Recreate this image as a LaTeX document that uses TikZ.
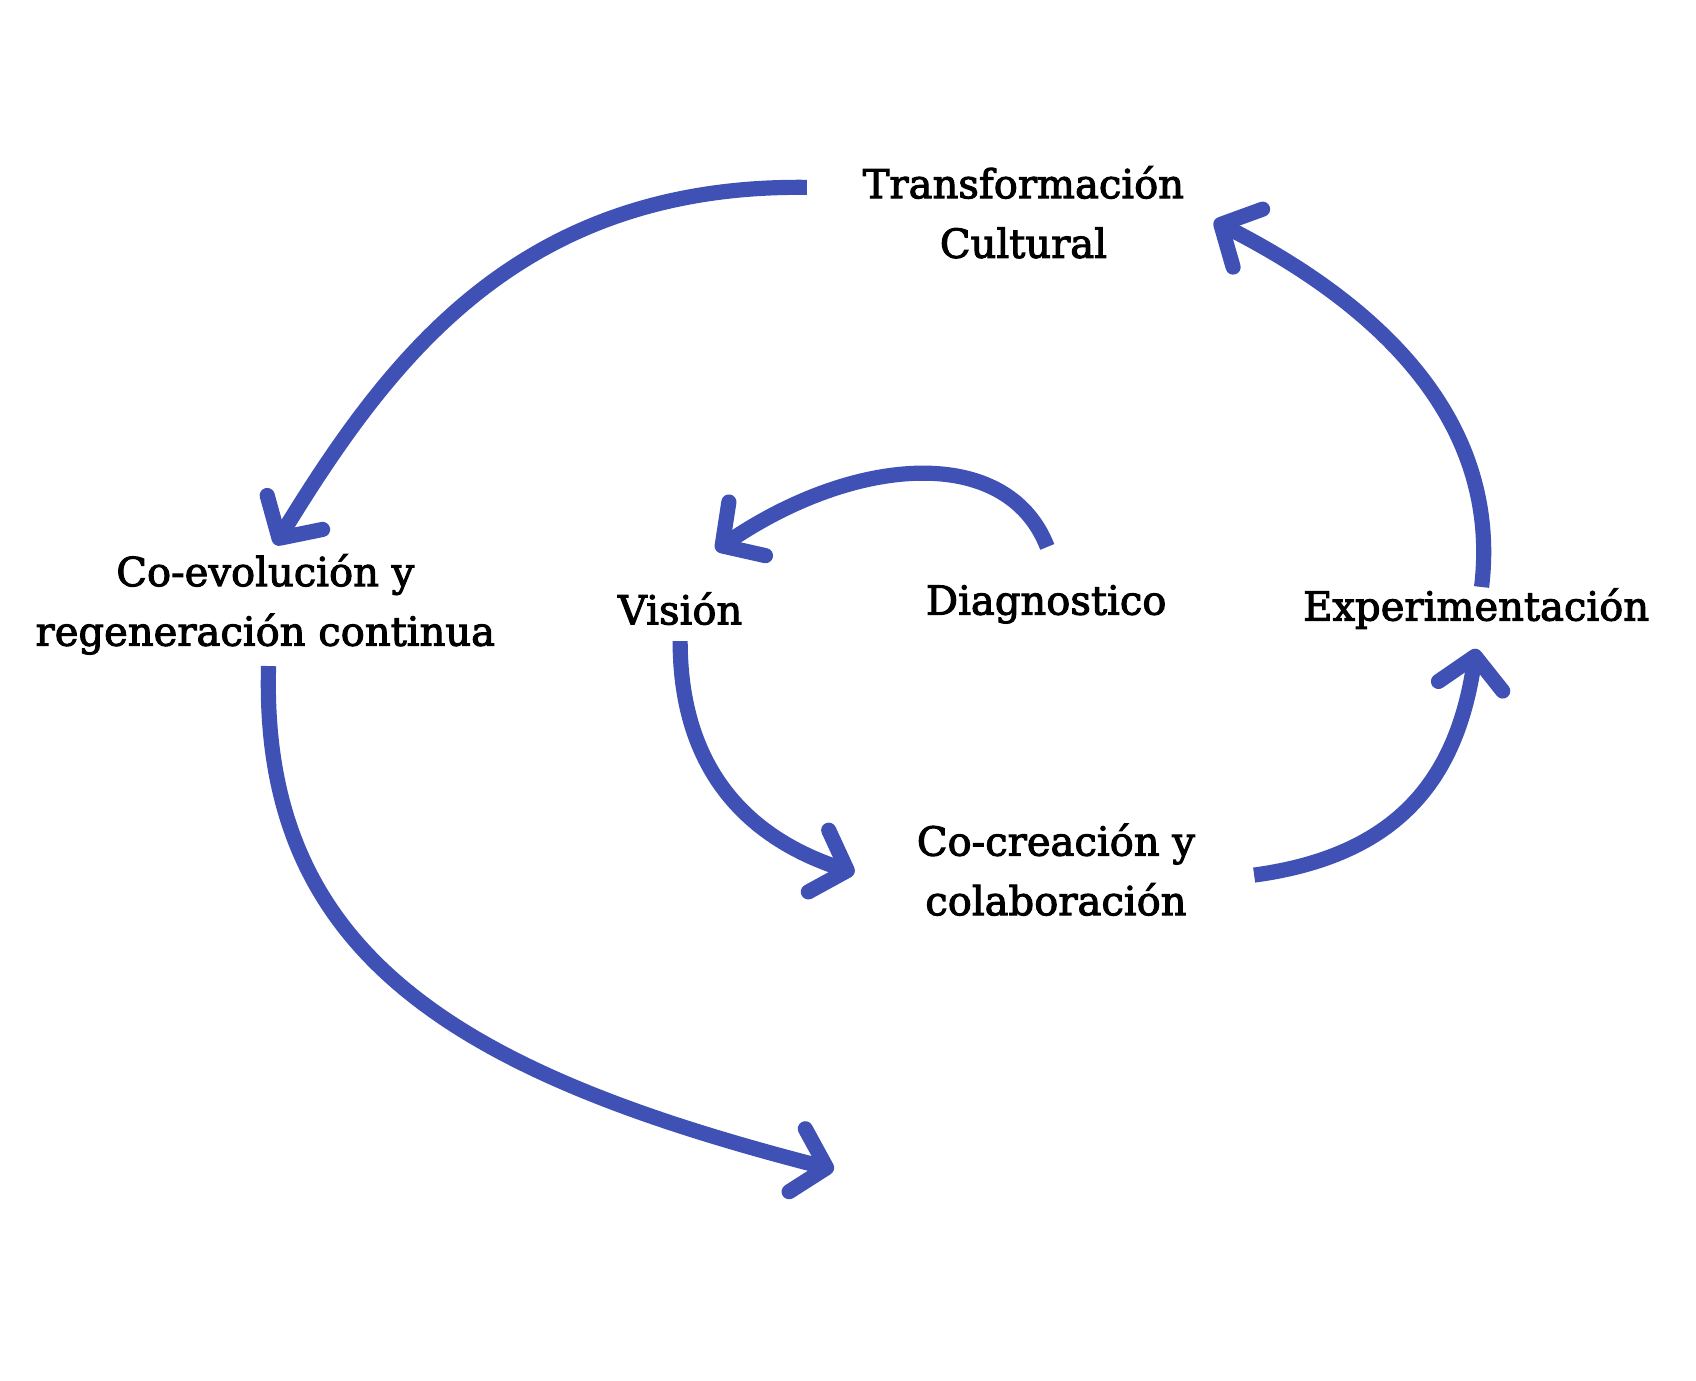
\documentclass[tikz,border=0pt]{standalone}
\usepackage{fontspec}
\setmainfont{DejaVu Serif}[FakeBold=2.5]
\usetikzlibrary{arrows.meta}
\definecolor{arrowblue}{HTML}{3F51B5}
\begin{document}
\begin{tikzpicture}[x=0.5pt,y=-0.5pt,
  lbl/.style={align=center,font=\fontsize{18.5}{27.5}\selectfont,inner sep=0pt},
  conn/.style={draw=arrowblue,line width=7pt,
    -{Straight Barb[length=14pt,width=30pt,round]}}]
\useasboundingbox (0,0) rectangle (1566,1275);
\node[lbl] (tc) at (945,196) {Transformación\\Cultural};
\node[lbl] (co) at (245,558) {Co-evolución y\\regeneración continua};
\node[lbl] (vi) at (628,562) {Visión};
\node[lbl] (di) at (966,558) {Diagnostico};
\node[lbl] (ex) at (1363,562) {Experimentación};
\node[lbl] (cc) at (975,803) {Co-creación y\\colaboración};
\coordinate (a1s) at (745,173);  \coordinate (a1e) at (254,503);
\coordinate (a2s) at (1368,542); \coordinate (a2e) at (1121,204);
\coordinate (a3s) at (967,505);  \coordinate (a3e) at (661,508);
\coordinate (a4s) at (628,592);  \coordinate (a4e) at (789,806);
\coordinate (a5s) at (1158,808); \coordinate (a5e) at (1363,599);
\coordinate (a6s) at (248,615);  \coordinate (a6e) at (770,1080);
\draw[conn] (a1s) .. controls (480,170) and (360,330) .. (a1e);
\draw[conn] (a2s) .. controls (1385,400) and (1290,290) .. (a2e);
\draw[conn] (a3s) .. controls (930,410) and (790,420) .. (a3e);
\draw[conn] (a4s) .. controls (628,700) and (680,770) .. (a4e);
\draw[conn] (a5s) .. controls (1290,790) and (1345,720) .. (a5e);
\draw[conn] (a6s) .. controls (240,880) and (420,990) .. (a6e);
\end{tikzpicture}
\end{document}
